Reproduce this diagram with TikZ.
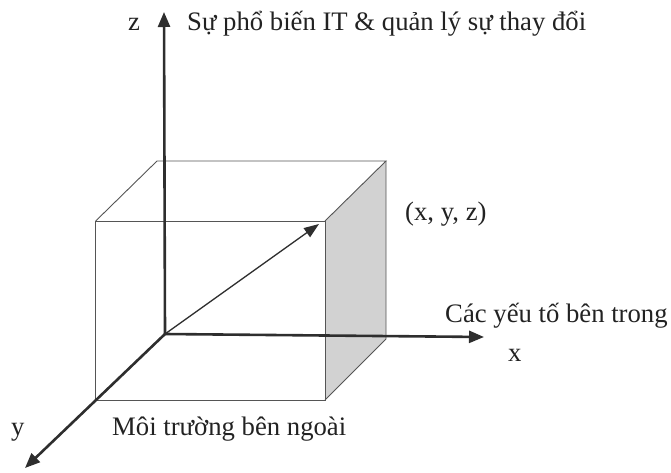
\documentclass[tikz,border=0pt]{standalone}
\usepackage{fontspec}
\setmainfont{Liberation Serif}
\usetikzlibrary{arrows.meta}
\definecolor{axiscol}{HTML}{2E2E2E}
\definecolor{edgecol}{HTML}{555555}
\definecolor{shadecol}{HTML}{D2D2D2}
\definecolor{textcol}{HTML}{222222}
\tikzset{
  axis/.style={line width=2.6pt, color=axiscol, -{Triangle[length=15pt,width=12pt]}},
  vecarrow/.style={line width=1.3pt, color=axiscol, -{Triangle[length=15pt,width=11pt]}},
  edge/.style={line width=0.9pt, color=edgecol},
  lbl/.style={inner sep=0pt, anchor=base west, text=textcol, font=\fontsize{26.7}{30}\selectfont}
}
\begin{document}
\begin{tikzpicture}[x=1pt,y=-1pt]
\useasboundingbox (0,0) rectangle (671,473);
% box corners
\coordinate (FTL) at (95.7,221);
\coordinate (FTR) at (325,221);
\coordinate (FBL) at (95.7,400);
\coordinate (FBR) at (325,400);
\coordinate (BTL) at (157,161);
\coordinate (BTR) at (386,161);
\coordinate (BBR) at (386,339);
% axes
\coordinate (O) at (165,334);
\coordinate (Zt) at (164,12);
\coordinate (Xt) at (484,337);
\coordinate (Yt) at (25,468);
\coordinate (P) at (319,224);
% shaded right face
\fill[shadecol] (FTR) -- (BTR) -- (BBR) -- (FBR) -- cycle;
% box edges
\draw[edge] (FTL) rectangle (FBR);
\draw[edge] (FTL) -- (BTL) -- (BTR) -- (FTR);
\draw[edge] (BTR) -- (BBR) -- (FBR);
% axes
\draw[axis] (O) -- (Zt);
\draw[axis] (O) -- (Xt);
\draw[axis] (O) -- (Yt);
\draw[vecarrow] (O) -- (P);
% labels
\node[lbl] (zl) at (128,31) {z};
\node[lbl] (zt) at (187,31) {Sự phổ biến IT \& quản lý sự thay đổi};
\node[lbl] (pl) at (405,220) {(x, y, z)};
\node[lbl] (xt) at (445,322) {Các yếu tố bên trong};
\node[lbl] (xl) at (508,361) {x};
\node[lbl] (yl) at (11,435) {y};
\node[lbl] (yt) at (112,435) {Môi trường bên ngoài};
\end{tikzpicture}
\end{document}
